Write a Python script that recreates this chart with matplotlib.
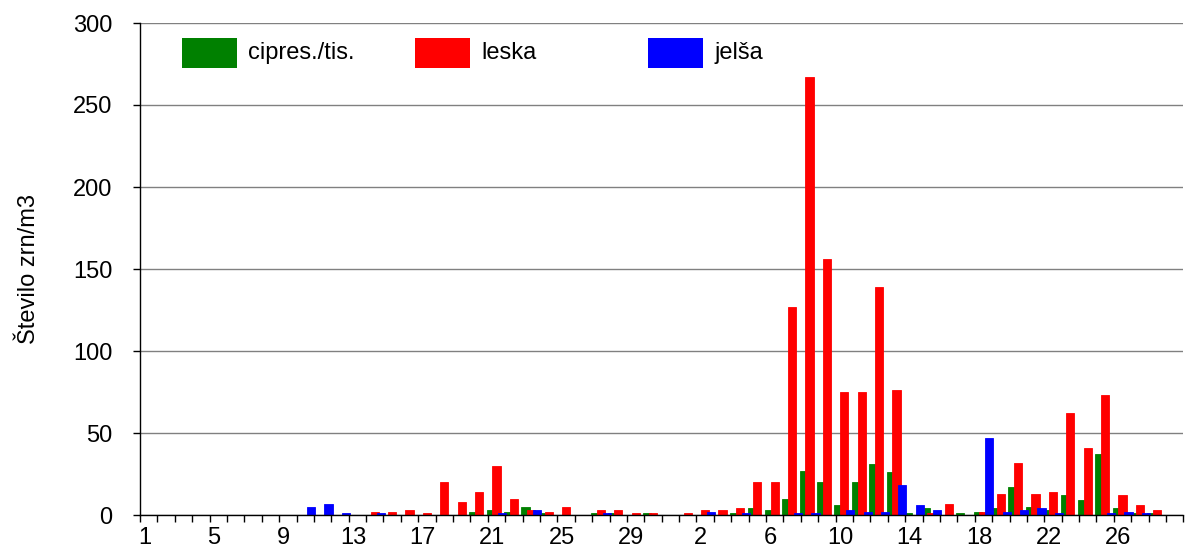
import matplotlib
matplotlib.use("Agg")
import matplotlib.pyplot as plt
import numpy as np
from matplotlib.patches import Rectangle

plt.rcParams['font.family'] = ['Liberation Sans', 'DejaVu Sans']

# days: January 1-31, February 1-29
days = list(range(1, 32)) + list(range(1, 30))

series_names = ['cipres./tis.', 'leska', 'jelša']
colors = ['#008000', '#FF0000', '#0000FF']

# pollen counts per day (zrn/m3)
cipres = [0, 0, 0, 0, 0, 0, 0, 0, 0, 0,
          0, 0, 0, 0, 0, 0, 0, 0, 0, 2,
          3, 2, 5, 1, 0, 0, 1, 1, 0, 1,
          0, 0, 0, 0, 1, 4, 3, 10, 27, 20,
          6, 20, 31, 26, 1, 4, 0, 1, 2, 4,
          17, 5, 3, 12, 9, 37, 4, 1, 1, 0]
leska = [0, 0, 0, 0, 0, 0, 0, 0, 0, 0,
         0, 0, 0, 2, 2, 3, 1, 20, 8, 14,
         30, 10, 3, 2, 5, 0, 3, 3, 1, 1,
         0, 1, 3, 3, 4, 20, 20, 127, 267, 156,
         75, 75, 139, 76, 0, 1, 7, 0, 2, 13,
         32, 13, 14, 62, 41, 73, 12, 6, 3, 0]
jelsa = [0, 0, 0, 0, 0, 0, 0, 0, 0, 5,
         7, 1, 0, 1, 0, 0, 0, 0, 0, 0,
         1, 0, 3, 0, 0, 0, 1, 0, 0, 0,
         0, 0, 2, 0, 1, 0, 0, 1, 1, 0,
         3, 2, 2, 18, 6, 3, 0, 0, 47, 2,
         3, 4, 1, 0, 0, 1, 2, 1, 0, 0]

W, H = 1189, 549
fig = plt.figure(figsize=(W / 100, H / 100), dpi=100)
ax = fig.add_axes([140 / W, 34 / H, 1043.4 / W, 492 / H])

x = np.arange(len(days))
width = 0.47
offsets = [-0.33, 0.0, 0.34]
for vals, off, c in zip([cipres, leska, jelsa], offsets, colors):
    ax.bar(x + off, vals, width, color=c, edgecolor=c, linewidth=0.6, zorder=2)

ax.set_xlim(-0.5, len(days) - 0.5)
ax.set_ylim(0, 300)
ax.set_yticks(np.arange(0, 301, 50))
ax.yaxis.grid(True, color='#808080', linewidth=1)
ax.set_axisbelow(True)

for side in ['top', 'right']:
    ax.spines[side].set_visible(False)
for side in ['left', 'bottom']:
    ax.spines[side].set_color('black')
    ax.spines[side].set_linewidth(1)

# ticks between days, labels every 4th day
ax.set_xticks(np.arange(-0.5, len(days), 1))
ax.set_xticklabels([])
ax.tick_params(axis='x', which='major', length=5, width=1, direction='out', color='black')
lab_idx = list(range(0, len(days), 4))
ax.set_xticks([i - 0.25 for i in lab_idx], minor=True)
ax.set_xticklabels([str(days[i]) for i in lab_idx], minor=True, fontsize=17)
ax.tick_params(axis='x', which='minor', length=0, pad=9)
ax.tick_params(axis='y', length=5, width=1, pad=15, labelsize=17)

ax.set_ylabel('Število zrn/m3', fontsize=17, labelpad=24)

# legend across the top
for i, (name, c) in enumerate(zip(series_names, colors)):
    x0 = 182 + 233 * i
    fig.patches.append(Rectangle((x0 / W, 1 - 68 / H), 55 / W, 30 / H,
                                 transform=fig.transFigure, facecolor=c, edgecolor='none'))
    fig.text((x0 + 66) / W, 1 - 53 / H, name, fontsize=17, va='center', ha='left')

fig.savefig('out.png', dpi=100)
